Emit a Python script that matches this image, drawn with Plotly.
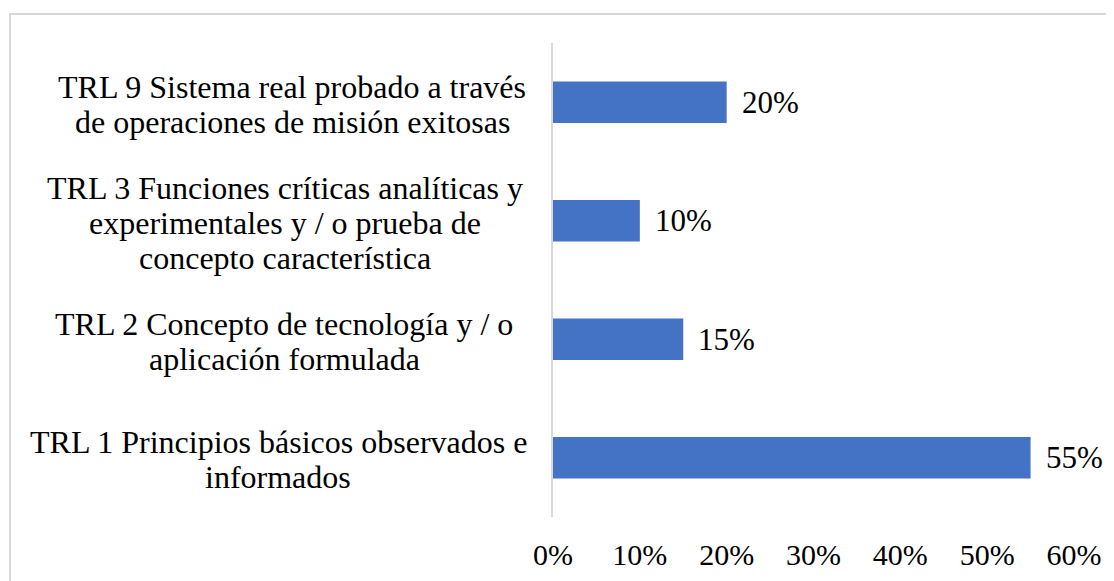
import plotly.graph_objects as go

categories = ["TRL 1", "TRL 2", "TRL 3", "TRL 9"]
category_lines = [
    ["TRL 1 Principios básicos observados e", "informados"],
    ["TRL 2 Concepto de tecnología y / o", "aplicación formulada"],
    ["TRL 3 Funciones críticas analíticas y", "experimentales y / o prueba de", "concepto característica"],
    ["TRL 9 Sistema real probado a través", "de operaciones de misión exitosas"],
]
values = [0.55, 0.15, 0.10, 0.20]
value_labels = ["55%", "15%", "10%", "20%"]
x_ticks = [0, 0.1, 0.2, 0.3, 0.4, 0.5, 0.6]
x_tick_labels = ["0%", "10%", "20%", "30%", "40%", "50%", "60%"]

FONT = "Liberation Serif"
FS_CAT = 32
FS_VAL = 31
FS_TICK = 30
LINE_H = 35
# page body has an 8px margin, so figure coordinates are screen minus 8
W, H = 1106, 573
ML, MR, MT, MB = 545, 40, 35, 64
PW = W - ML - MR
PH = H - MT - MB
label_centers_px = [270, 276, 277, 284]  # horizontal centre of each label block (figure px)

fig = go.Figure()
fig.add_trace(go.Bar(
    x=values, y=categories, orientation="h",
    marker=dict(color="#4472C4", line=dict(width=0)),
    hoverinfo="skip",
))

for c, v, t, lines, cx in zip(categories, values, value_labels, category_lines, label_centers_px):
    fig.add_annotation(x=v, y=c, xref="x", yref="y", text=t, showarrow=False,
                       xanchor="left", xshift=13, font=dict(family=FONT, size=FS_VAL, color="#000"))
    n = len(lines)
    for i, ln in enumerate(lines):
        off = (i - (n - 1) / 2) * LINE_H
        fig.add_annotation(x=(cx - ML) / PW, y=c, xref="paper", yref="y", text=ln,
                           showarrow=False, xanchor="center", yanchor="middle", yshift=-off - 2,
                           font=dict(family=FONT, size=FS_CAT, color="#000"))

# outer frame
fig.add_shape(type="rect", xref="paper", yref="paper",
              x0=-(ML - 2) / PW, x1=1.3, y0=-0.3, y1=1 + (MT - 6) / PH,
              line=dict(color="#d9d9d9", width=2), fillcolor="rgba(0,0,0,0)", layer="below")

fig.update_layout(
    width=W, height=H,
    margin=dict(l=ML, r=MR, t=MT, b=MB, autoexpand=False),
    paper_bgcolor="white", plot_bgcolor="white",
    bargap=0.65,
    showlegend=False,
    font=dict(family=FONT, size=FS_TICK, color="#000"),
    xaxis=dict(range=[0, 0.6], tickvals=x_ticks, ticktext=x_tick_labels,
               showgrid=False, zeroline=False, showline=False, ticks="",
               ticklabelstandoff=17, fixedrange=True, automargin=False,
               tickfont=dict(family=FONT, size=FS_TICK, color="#000")),
    yaxis=dict(showticklabels=False, showgrid=False, zeroline=False, automargin=False,
               showline=True, linecolor="#d9d9d9", linewidth=1.5, ticks="",
               range=[-0.5, 3.5], fixedrange=True),
)

fig.write_html("out.html")
